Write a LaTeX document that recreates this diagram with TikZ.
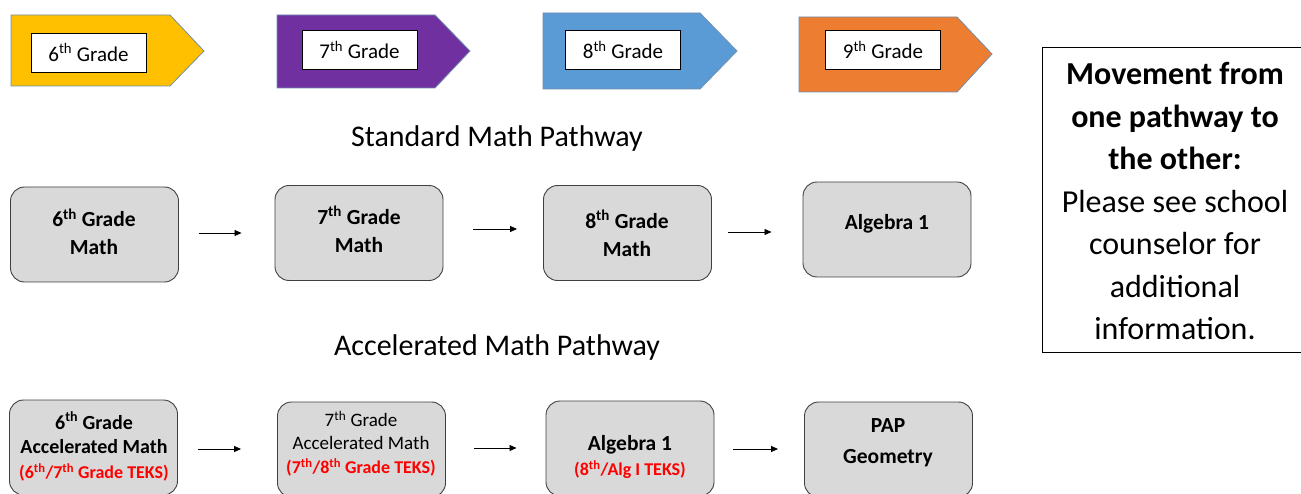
\documentclass[tikz,border=0pt]{standalone}
\usepackage{fontspec}
\setmainfont{Carlito}
\usetikzlibrary{arrows.meta,calc}
\definecolor{gyellow}{HTML}{FFC000}
\definecolor{gpurple}{HTML}{7030A0}
\definecolor{gblue}{HTML}{5B9BD5}
\definecolor{gorange}{HTML}{ED7D31}
\definecolor{bannerline}{HTML}{6F8FAF}
\definecolor{boxfill}{HTML}{D9D9D9}
\definecolor{boxline}{HTML}{404040}
\definecolor{teksred}{HTML}{FF0000}
\tikzset{
  banner/.style={draw=bannerline, line width=0.8pt},
  gradelbl/.style={draw=black, fill=white, line width=0.8pt, minimum width=115, minimum height=39, inner sep=0pt, font=\fontsize{21}{24}\selectfont},
  pbox/.style={draw=boxline, fill=boxfill, line width=0.9pt, rounded corners=14pt, minimum width=168, minimum height=95, inner sep=0pt},
  ptxt/.style={align=center, inner sep=0pt, font=\bfseries\fontsize{21.5}{28}\selectfont},
  atxt/.style={align=center, inner sep=0pt, font=\bfseries\fontsize{20}{24.5}\selectfont},
  redtxt/.style={text=teksred},
  title/.style={inner sep=0pt, font=\fontsize{30}{34}\selectfont},
  arr/.style={-{Triangle[length=7pt,width=6pt]}, line width=0.8pt, black}
}
\newcommand{\redline}[1]{{\bfseries\fontsize{18}{24}\selectfont\color{teksred}#1}}
\begin{document}
\begin{tikzpicture}[x=1pt,y=-1pt]
\useasboundingbox (0,0) rectangle (1301,494);
\clip (0,0) rectangle (1301,494);
% grade banners
\draw[banner, fill=gyellow] (11,15) -- (170,15) -- (204,51) -- (170,86) -- (11,86) -- cycle;
\draw[banner, fill=gpurple] (277,15) -- (435,15) -- (470,51) -- (435,88) -- (277,88) -- cycle;
\draw[banner, fill=gblue] (543,13) -- (700,13) -- (737,51) -- (700,89) -- (543,89) -- cycle;
\draw[banner, fill=gorange] (799,17) -- (957,17) -- (992,54) -- (957,92) -- (799,92) -- cycle;
\node[gradelbl] (g6) at (88.5,52.5) {6\textsuperscript{th} Grade};
\node[gradelbl] (g7) at (359.5,50) {7\textsuperscript{th} Grade};
\node[gradelbl] (g8) at (623,50) {8\textsuperscript{th} Grade};
\node[gradelbl] (g9) at (883,50) {9\textsuperscript{th} Grade};
% titles
\node[title] (tstd) at (497,139) {Standard Math Pathway};
\node[title] (tacc) at (497,348) {Accelerated Math Pathway};
% standard row
\node[pbox] (s1) at (94.5,234.5) {};
\node[pbox] (s2) at (359,233) {};
\node[pbox] (s3) at (627.5,233) {};
\node[pbox] (s4) at (887,229.5) {};
\node[ptxt] (s1t) at (94,232) {6\textsuperscript{th} Grade\\Math};
\node[ptxt] (s2t) at (359,229.5) {7\textsuperscript{th} Grade\\Math};
\node[ptxt] (s3t) at (627,233.5) {8\textsuperscript{th} Grade\\Math};
\node[ptxt] (s4t) at (887,224) {Algebra 1};
\draw[arr, shorten <=20pt, shorten >=33pt] (s1.east |- 0,233) -- (s2.west |- 0,233);
\draw[arr, shorten <=30pt, shorten >=26pt] (s2.east |- 0,229) -- (s3.west |- 0,229);
\draw[arr, shorten <=16pt, shorten >=31pt] (s3.east |- 0,232) -- (s4.west |- 0,232);
% accelerated row
\node[pbox] (a1) at (93.5,447.5) {};
\node[pbox] (a2) at (361.5,449.5) {};
\node[pbox] (a3) at (630,448.5) {};
\node[pbox] (a4) at (888.5,449.5) {};
\node[atxt] (a1t) at (94,446.5) {6\textsuperscript{th} Grade\\Accelerated Math\\\redline{(6\textsuperscript{th}/7\textsuperscript{th} Grade TEKS)}};
\node[atxt, font=\fontsize{19}{23.5}\selectfont] (a2t) at (361,443.5) {7\textsuperscript{th} Grade\\Accelerated Math\\\redline{(7\textsuperscript{th}/8\textsuperscript{th} Grade TEKS)}};
\node[atxt, font=\bfseries\fontsize{21.5}{25}\selectfont] (a3t) at (630,457) {Algebra 1\\\redline{(8\textsuperscript{th}/Alg I TEKS)}};
\node[ptxt, font=\bfseries\fontsize{21.5}{31}\selectfont] (a4t) at (888,442.5) {PAP\\Geometry};
\draw[arr, shorten <=20pt, shorten >=36pt] (a1.east |- 0,449) -- (a2.west |- 0,449);
\draw[arr, shorten <=28pt, shorten >=29pt] (a2.east |- 0,448) -- (a3.west |- 0,448);
\draw[arr, shorten <=19pt, shorten >=26pt] (a3.east |- 0,449) -- (a4.west |- 0,449);
% note box
\node[draw=black, line width=0.9pt, minimum width=270, minimum height=305, inner sep=0pt, anchor=north west] (note) at (1042,47) {};
\node[align=center, inner sep=0pt, font=\fontsize{32}{42.5}\selectfont] (notet) at (1175,201.5) {\textbf{Movement from}\\\textbf{one pathway to}\\\textbf{the other:}\\Please see school\\counselor for\\additional\\information.};
\end{tikzpicture}
\end{document}
